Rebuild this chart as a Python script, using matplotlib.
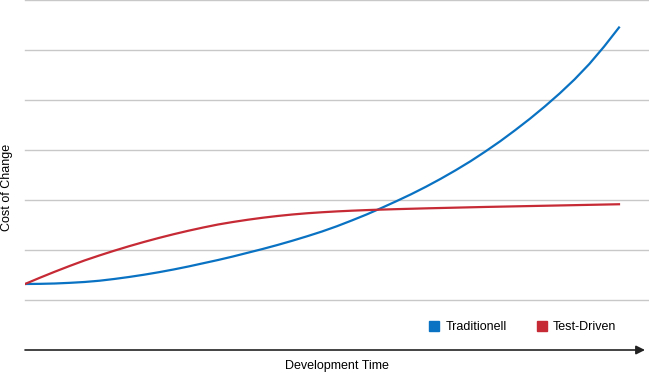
import matplotlib.pyplot as plt
from matplotlib.lines import Line2D

plt.rcParams['font.family'] = ['Liberation Sans', 'DejaVu Sans']

# development time (arbitrary units) and cost of change
time = [0, 0.25, 0.5, 0.75, 1, 1.25, 1.5, 1.75, 2, 2.25, 2.5, 2.75, 3, 3.25,
        3.5, 3.75, 4, 4.25, 4.5, 4.75, 5, 5.25, 5.5, 5.75, 6, 6.25, 6.5, 6.75,
        7, 7.25, 7.5, 7.75, 8, 8.25, 8.5, 8.75, 9, 9.25, 9.5, 9.75, 10]
traditionell = [1.32, 1.323, 1.33, 1.343, 1.36, 1.385, 1.42, 1.46, 1.505, 1.555,
                1.61, 1.67, 1.735, 1.80, 1.87, 1.945, 2.02, 2.10, 2.185, 2.275,
                2.37, 2.475, 2.59, 2.71, 2.84, 2.975, 3.115, 3.265, 3.425, 3.595,
                3.775, 3.97, 4.175, 4.395, 4.625, 4.87, 5.13, 5.41, 5.72, 6.07, 6.45]
test_driven = [1.32, 1.445, 1.565, 1.68, 1.79, 1.89, 1.985, 2.075, 2.16, 2.24,
               2.315, 2.385, 2.45, 2.51, 2.56, 2.605, 2.645, 2.68, 2.71, 2.735,
               2.755, 2.772, 2.786, 2.798, 2.808, 2.817, 2.825, 2.833, 2.84, 2.847,
               2.854, 2.861, 2.867, 2.873, 2.879, 2.885, 2.891, 2.897, 2.903, 2.909, 2.915]
grid_levels = [1, 2, 3, 4, 5, 6, 7]

blue = '#0a72c2'
red = '#c62a35'

fig = plt.figure(figsize=(6.49, 3.74), dpi=100)
ax = fig.add_axes([25 / 649, 24 / 374, 624 / 649, 350 / 374])

for g in grid_levels:
    ax.axhline(g, color='#c8c8c8', lw=1.0, zorder=0, clip_on=False)

ax.plot(time, traditionell, color=blue, lw=1.6, solid_joinstyle='round')
ax.plot(time, test_driven, color=red, lw=1.6, solid_joinstyle='round')

ax.set_xlim(0, 624 / 59.4)
ax.set_ylim(0, 7)
ax.set_xticks([])
ax.set_yticks([])
for s in ax.spines.values():
    s.set_visible(False)

# x axis with arrow head
ax.annotate('', xy=(620 / 624, 0), xytext=(0, 0),
            xycoords='axes fraction', textcoords='axes fraction',
            arrowprops=dict(arrowstyle='-|>', color='#222222', lw=1.2,
                            mutation_scale=13, shrinkA=0, shrinkB=0),
            annotation_clip=False)

fig.text(337 / 649, 1 - 366 / 374, 'Development Time', ha='center', va='center', fontsize=9)
fig.text(7 / 649, 1 - 187 / 374, 'Cost of Change', ha='center', va='center',
         rotation=90, fontsize=9)

handles = [Line2D([], [], ls='', marker='s', markersize=6.5, color=blue),
           Line2D([], [], ls='', marker='s', markersize=6.5, color=red)]
fig.legend(handles, ['Traditionell', 'Test-Driven'], ncol=2, frameon=False,
           loc='center left', bbox_to_anchor=(418 / 649, 1 - 327 / 374),
           fontsize=9, handlelength=0.8, handletextpad=0.5, columnspacing=2.4)

plt.savefig('out.png', dpi=100)
plt.close()
